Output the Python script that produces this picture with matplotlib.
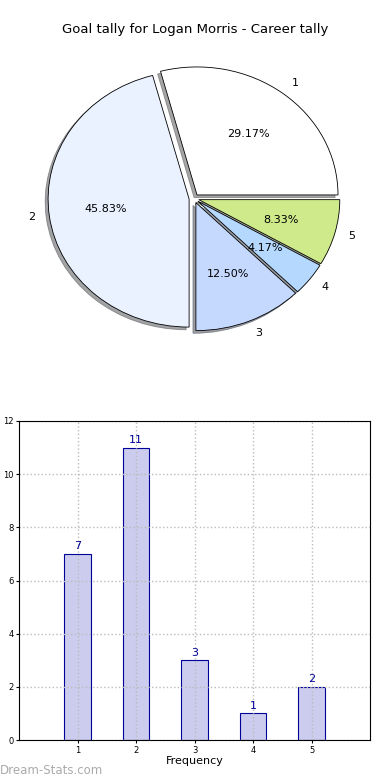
import matplotlib
matplotlib.use("Agg")
import matplotlib.pyplot as plt

labels = ["1", "2", "3", "4", "5"]
values = [7, 11, 3, 1, 2]
pie_colors = ["#ffffff", "#eaf1ff", "#c5d9ff", "#b5d8ff", "#cfea8a"]
bar_x = [1, 2, 3, 4, 5]

fig = plt.figure(figsize=(3.9, 7.8), dpi=100)

# Pie (elliptical, as in the reference)
RX, RY = 141.0, 128.0
cx, cy = 194.0, 198.5
w, h = 2.5 * RX, 2.5 * RY
axp = fig.add_axes([(cx - w / 2) / 390, 1 - (cy + h / 2) / 780, w / 390, h / 780])
axp.pie(values, labels=labels, colors=pie_colors, autopct="%1.2f%%",
        explode=[0.035] * 5,
        shadow={"ox": -0.015, "oy": -0.015, "shade": 0.7},
        startangle=0, counterclock=True,
        wedgeprops=dict(edgecolor="black", linewidth=0.6),
        textprops=dict(fontsize=8))
axp.set_aspect("auto")
fig.text(195 / 390, 1 - 30 / 780, "Goal tally for Logan Morris - Career tally",
         ha="center", va="center", fontsize=9.5)

# Bar
axb = fig.add_axes([19 / 390, 1 - 740 / 780, 351 / 390, 319 / 780])
axb.bar(bar_x, values, width=0.45, color="#ccccee", edgecolor="#000099",
        linewidth=0.8, zorder=2)
for x, v in zip(bar_x, values):
    axb.text(x, v + 0.1, str(v), ha="center", va="bottom", color="#000099", fontsize=8)
axb.set_xlim(0, 6)
axb.set_ylim(0, 12)
axb.set_xticks(bar_x)
axb.set_yticks(range(0, 13, 2))
axb.tick_params(labelsize=6, length=2, pad=2)
axb.set_axisbelow(False)
axb.grid(True, linestyle=":", color="#bbbbbb", linewidth=1)
for sp in axb.spines.values():
    sp.set_zorder(5)
axb.set_xlabel("Frequency", fontsize=8, labelpad=1)
axb.set_ylabel("Goals in Match", fontsize=8)
axb.yaxis.set_label_coords(-0.068, 0.5)

fig.text(0, 1 - 770 / 780, "Dream-Stats.com", color="#aaaaaa", fontsize=8.5,
         ha="left", va="center")

fig.savefig("out.png", dpi=100)
